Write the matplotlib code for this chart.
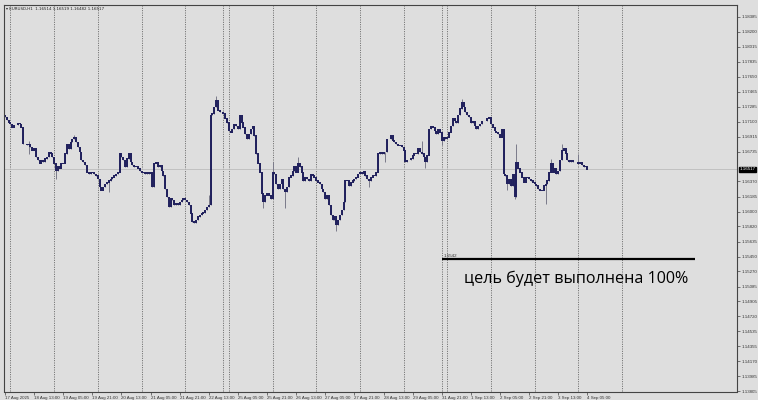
import numpy as np
import matplotlib
matplotlib.use("Agg")
import matplotlib.pyplot as plt

# EURUSD H1 closes, one per bar
closes = [
    1.1716, 1.1712, 1.1709, 1.1707, 1.1703, 1.1706, 1.1706, 1.1708, 1.1707, 1.1703,
    1.1683, 1.1683, 1.1682, 1.1683, 1.1679, 1.1675, 1.1677, 1.1667, 1.1663, 1.1659,
    1.1663, 1.1661, 1.1665, 1.1667, 1.1673, 1.1671, 1.1667, 1.1659, 1.1650, 1.1655,
    1.1653, 1.1659, 1.1659, 1.1671, 1.1683, 1.1677, 1.1685, 1.1689, 1.1691, 1.1685,
    1.1679, 1.1673, 1.1663, 1.1661, 1.1657, 1.1648, 1.1646, 1.1648, 1.1648, 1.1646,
    1.1644, 1.1640, 1.1630, 1.1626, 1.1630, 1.1634, 1.1636, 1.1638, 1.1640, 1.1642,
    1.1644, 1.1646, 1.1648, 1.1671, 1.1667, 1.1663, 1.1655, 1.1665, 1.1671, 1.1661,
    1.1657, 1.1655, 1.1655, 1.1653, 1.1650, 1.1648, 1.1648, 1.1646, 1.1648, 1.1646,
    1.1648, 1.1630, 1.1659, 1.1661, 1.1655, 1.1657, 1.1650, 1.1644, 1.1628, 1.1618,
    1.1606, 1.1616, 1.1614, 1.1608, 1.1610, 1.1608, 1.1612, 1.1614, 1.1616, 1.1614,
    1.1612, 1.1608, 1.1598, 1.1588, 1.1586, 1.1590, 1.1594, 1.1596, 1.1598, 1.1599,
    1.1602, 1.1606, 1.1608, 1.1718, 1.1720, 1.1728, 1.1736, 1.1724, 1.1722, 1.1722,
    1.1720, 1.1714, 1.1709, 1.1699, 1.1697, 1.1701, 1.1707, 1.1705, 1.1701, 1.1718,
    1.1709, 1.1703, 1.1695, 1.1689, 1.1695, 1.1701, 1.1705, 1.1693, 1.1671, 1.1659,
    1.1648, 1.1622, 1.1612, 1.1620, 1.1622, 1.1620, 1.1616, 1.1648, 1.1646, 1.1634,
    1.1628, 1.1634, 1.1640, 1.1628, 1.1624, 1.1630, 1.1642, 1.1644, 1.1650, 1.1655,
    1.1648, 1.1659, 1.1655, 1.1648, 1.1638, 1.1642, 1.1640, 1.1638, 1.1646, 1.1644,
    1.1642, 1.1638, 1.1636, 1.1634, 1.1628, 1.1624, 1.1616, 1.1620, 1.1608, 1.1596,
    1.1590, 1.1594, 1.1584, 1.1590, 1.1596, 1.1602, 1.1612, 1.1638, 1.1638, 1.1632,
    1.1636, 1.1638, 1.1640, 1.1642, 1.1646, 1.1648, 1.1646, 1.1650, 1.1644, 1.1640,
    1.1638, 1.1642, 1.1644, 1.1644, 1.1648, 1.1671, 1.1673, 1.1671, 1.1673, 1.1673,
    1.1689, 1.1689, 1.1693, 1.1687, 1.1685, 1.1683, 1.1681, 1.1681, 1.1679, 1.1675,
    1.1661, 1.1663, 1.1663, 1.1665, 1.1669, 1.1671, 1.1671, 1.1677, 1.1673, 1.1671,
    1.1667, 1.1661, 1.1669, 1.1701, 1.1705, 1.1703, 1.1699, 1.1695, 1.1701, 1.1697,
    1.1687, 1.1691, 1.1689, 1.1691, 1.1697, 1.1705, 1.1714, 1.1711, 1.1709, 1.1718,
    1.1726, 1.1734, 1.1728, 1.1722, 1.1718, 1.1716, 1.1709, 1.1711, 1.1705, 1.1701,
    1.1705, 1.1707, 1.1711, 1.1711, 1.1711, 1.1714, 1.1716, 1.1707, 1.1703, 1.1699,
    1.1697, 1.1695, 1.1691, 1.1701, 1.1646, 1.1644, 1.1634, 1.1640, 1.1632, 1.1646,
    1.1618, 1.1661, 1.1653, 1.1648, 1.1642, 1.1636, 1.1642, 1.1642, 1.1640, 1.1638,
    1.1636, 1.1634, 1.1632, 1.1628, 1.1626, 1.1626, 1.1632, 1.1634, 1.1638, 1.1648,
    1.1659, 1.1648, 1.1653, 1.1646, 1.1650, 1.1663, 1.1675, 1.1677, 1.1671, 1.1663,
    1.1661, 1.1663, 1.1661, 1.1661, 1.1661, 1.1659, 1.1661, 1.1657, 1.1655, 1.1655,
    1.16517,
]
first_open = 1.1718

# wicks that stick out beyond the bodies
wick_hi_bars = [13, 38, 63, 112, 116, 147, 161, 229, 251, 281, 300, 306, 315]
wick_hi_vals = [1.1687, 1.1694, 1.1672, 1.1620, 1.1742, 1.1661, 1.1667, 1.1687, 1.1738, 1.1683, 1.1665, 1.1683, 1.1671]
wick_lo_bars = [13, 28, 57, 142, 154, 182, 200, 209, 231, 240, 276, 280, 297]
wick_lo_vals = [1.1671, 1.1640, 1.1624, 1.1604, 1.1604, 1.1577, 1.1630, 1.1661, 1.1653, 1.1681, 1.1626, 1.1616, 1.1610]

# day separators (bar index) and time labels (every 16 bars)
sep_bars = [3, 27, 51, 75, 99, 120, 123, 147, 171, 195, 219, 240, 243, 267, 291, 315, 339]
time_labels = ["17 Aug 2025", "18 Aug 13:00", "19 Aug 05:00", "19 Aug 21:00", "20 Aug 13:00",
               "21 Aug 05:00", "21 Aug 21:00", "22 Aug 13:00", "25 Aug 05:00", "25 Aug 21:00",
               "26 Aug 13:00", "27 Aug 05:00", "27 Aug 21:00", "28 Aug 13:00", "29 Aug 05:00",
               "31 Aug 21:00", "1 Sep 13:00", "2 Sep 05:00", "2 Sep 21:00", "3 Sep 13:00",
               "4 Sep 05:00"]
price_ticks = [1.18385, 1.18200, 1.18015, 1.17835, 1.17650, 1.17465, 1.17285, 1.17100,
               1.16915, 1.16735, 1.16370, 1.16185, 1.16000, 1.15820, 1.15635, 1.15450,
               1.15270, 1.15085, 1.14905, 1.14720, 1.14535, 1.14355, 1.14170, 1.13985,
               1.13805]
bid = 1.16517
target = 1.1542
target_from, target_to = 240, 379

BG = "#dedede"
NAVY = "#1f1f5c"

closes = np.array(closes)
opens = np.concatenate([[first_open], closes[:-1]])
highs = np.maximum(opens, closes)
lows = np.minimum(opens, closes)
for b, v in zip(wick_hi_bars, wick_hi_vals):
    highs[b] = max(highs[b], v)
for b, v in zip(wick_lo_bars, wick_lo_vals):
    lows[b] = min(lows[b], v)
idx = np.arange(len(closes))

fig = plt.figure(figsize=(7.58, 4.0), dpi=100, facecolor=BG)
ax = fig.add_axes([4 / 758, 8.5 / 400, 733 / 758, 386.5 / 400], facecolor=BG)
ax.set_xlim(-0.55, 402.2)
ax.set_ylim(1.13801, 1.18528)

# separators and bid line
ax.vlines(sep_bars, 1.13801, 1.18528, colors="#555555", linestyles=(0, (1.2, 1.6)), linewidth=0.6)
ax.axhline(bid, color="#bcbcbc", linewidth=0.6)

# candles
ax.vlines(idx, lows, highs, colors="#7a7a8a", linewidth=0.7)
ax.vlines(idx, np.minimum(opens, closes) - 0.00003, np.maximum(opens, closes) + 0.00003,
          colors=NAVY, linewidth=1.4)

# target line
ax.hlines(target, target_from, target_to, colors="black", linewidth=1.6)
ax.text(target_from + 1, target + 0.00025, "1.1542", fontsize=3.2, color="#333333",
        family="Liberation Sans")
ax.text(0.78, 0.291, "цель будет выполнена 100%", transform=ax.transAxes,
        fontsize=11.6, family="Open Sans", ha="center", va="center", color="black")

# axes styling
ax.yaxis.tick_right()
ax.set_yticks(price_ticks)
ax.set_yticklabels([f"{p:.5f}" for p in price_ticks])
ax.set_xticks(np.arange(0, 16 * len(time_labels), 16))
ax.set_xticklabels(time_labels)
for lbl in ax.get_xticklabels():
    lbl.set_ha("left")
ax.tick_params(axis="both", labelsize=3.2, length=2, width=0.5, color="#444444",
               labelcolor="#333333", pad=1)
for lbl in ax.get_xticklabels() + ax.get_yticklabels():
    lbl.set_family("Liberation Sans")
for s in ax.spines.values():
    s.set_linewidth(0.8)
    s.set_color("#444444")

# bid price box
ax.annotate(f"{bid:.5f}", xy=(1.0, bid), xycoords=("axes fraction", "data"),
            xytext=(2, 0), textcoords="offset points", fontsize=3.2, color="white",
            va="center", ha="left", family="Liberation Sans",
            bbox=dict(boxstyle="square,pad=0.15", fc="black", ec="black"))

# chart header
ax.text(0.003, 0.994, "\u25be EURUSD,H1  1.16514 1.16519 1.16482 1.16517", transform=ax.transAxes,
        fontsize=2.9, va="top", ha="left", color="#222222", family="DejaVu Sans")

fig.savefig("out.png", dpi=100, facecolor=BG)
